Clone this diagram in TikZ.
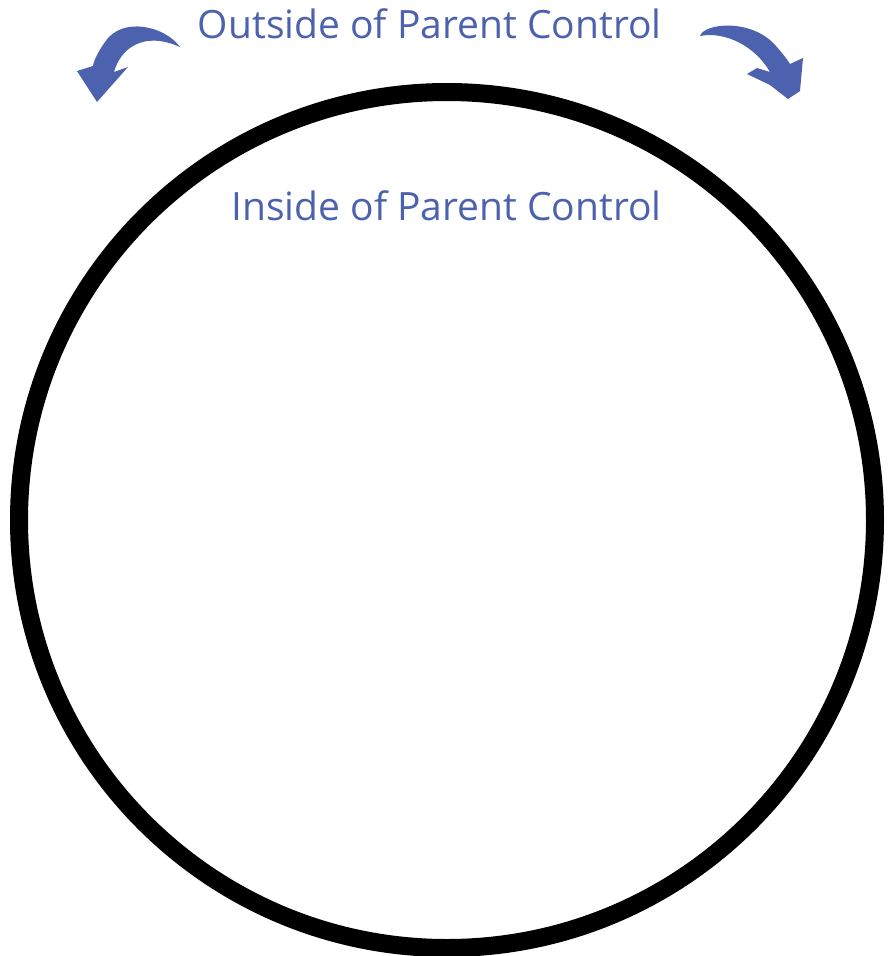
\documentclass[tikz,border=0pt]{standalone}
\usepackage{fontspec}
\setmainfont{Open Sans}
\usepackage{tikz}
\usetikzlibrary{positioning, calc}
\definecolor{parentblue}{HTML}{4D62AE}

\begin{document}
\begin{tikzpicture}[
  x=1pt, y=-1pt,
  ring/.style={circle, draw=black, line width=18pt, minimum size=856pt, inner sep=0pt},
  zone/.style={font=\fontsize{39}{44}\selectfont, text=parentblue, inner sep=0pt},
  swoosh/.style={fill=parentblue, draw=none},
]
  \useasboundingbox (0,0) rectangle (890,956);
  \node[ring] (circ) at (447,520) {};
  \node[zone, anchor=base east] (outside) at (662,38) {Outside of Parent Control};
  \node[zone, anchor=base east] (inside) at (662,220) {Inside of Parent Control};
  % left swoosh arrow
  \fill[swoosh] (180,47) .. controls (165,26) and (122,16) .. (105,42)
    .. controls (98,52) and (94,60) .. (93,66) -- (77,71) -- (97,102)
    -- (128,67) -- (114,72) .. controls (120,50) and (142,30) .. (180,47) -- cycle;
  % right swoosh arrow
  \fill[swoosh] (700,36) .. controls (704,23) and (752,18) .. (776,46)
    .. controls (782,53) and (787,59) .. (790,64) -- (803,58) -- (800,91)
    -- (788,99) -- (770,85) -- (747,74) -- (757,68) -- (770,72)
    .. controls (755,46) and (725,31) .. (700,36) -- cycle;
\end{tikzpicture}
\end{document}
